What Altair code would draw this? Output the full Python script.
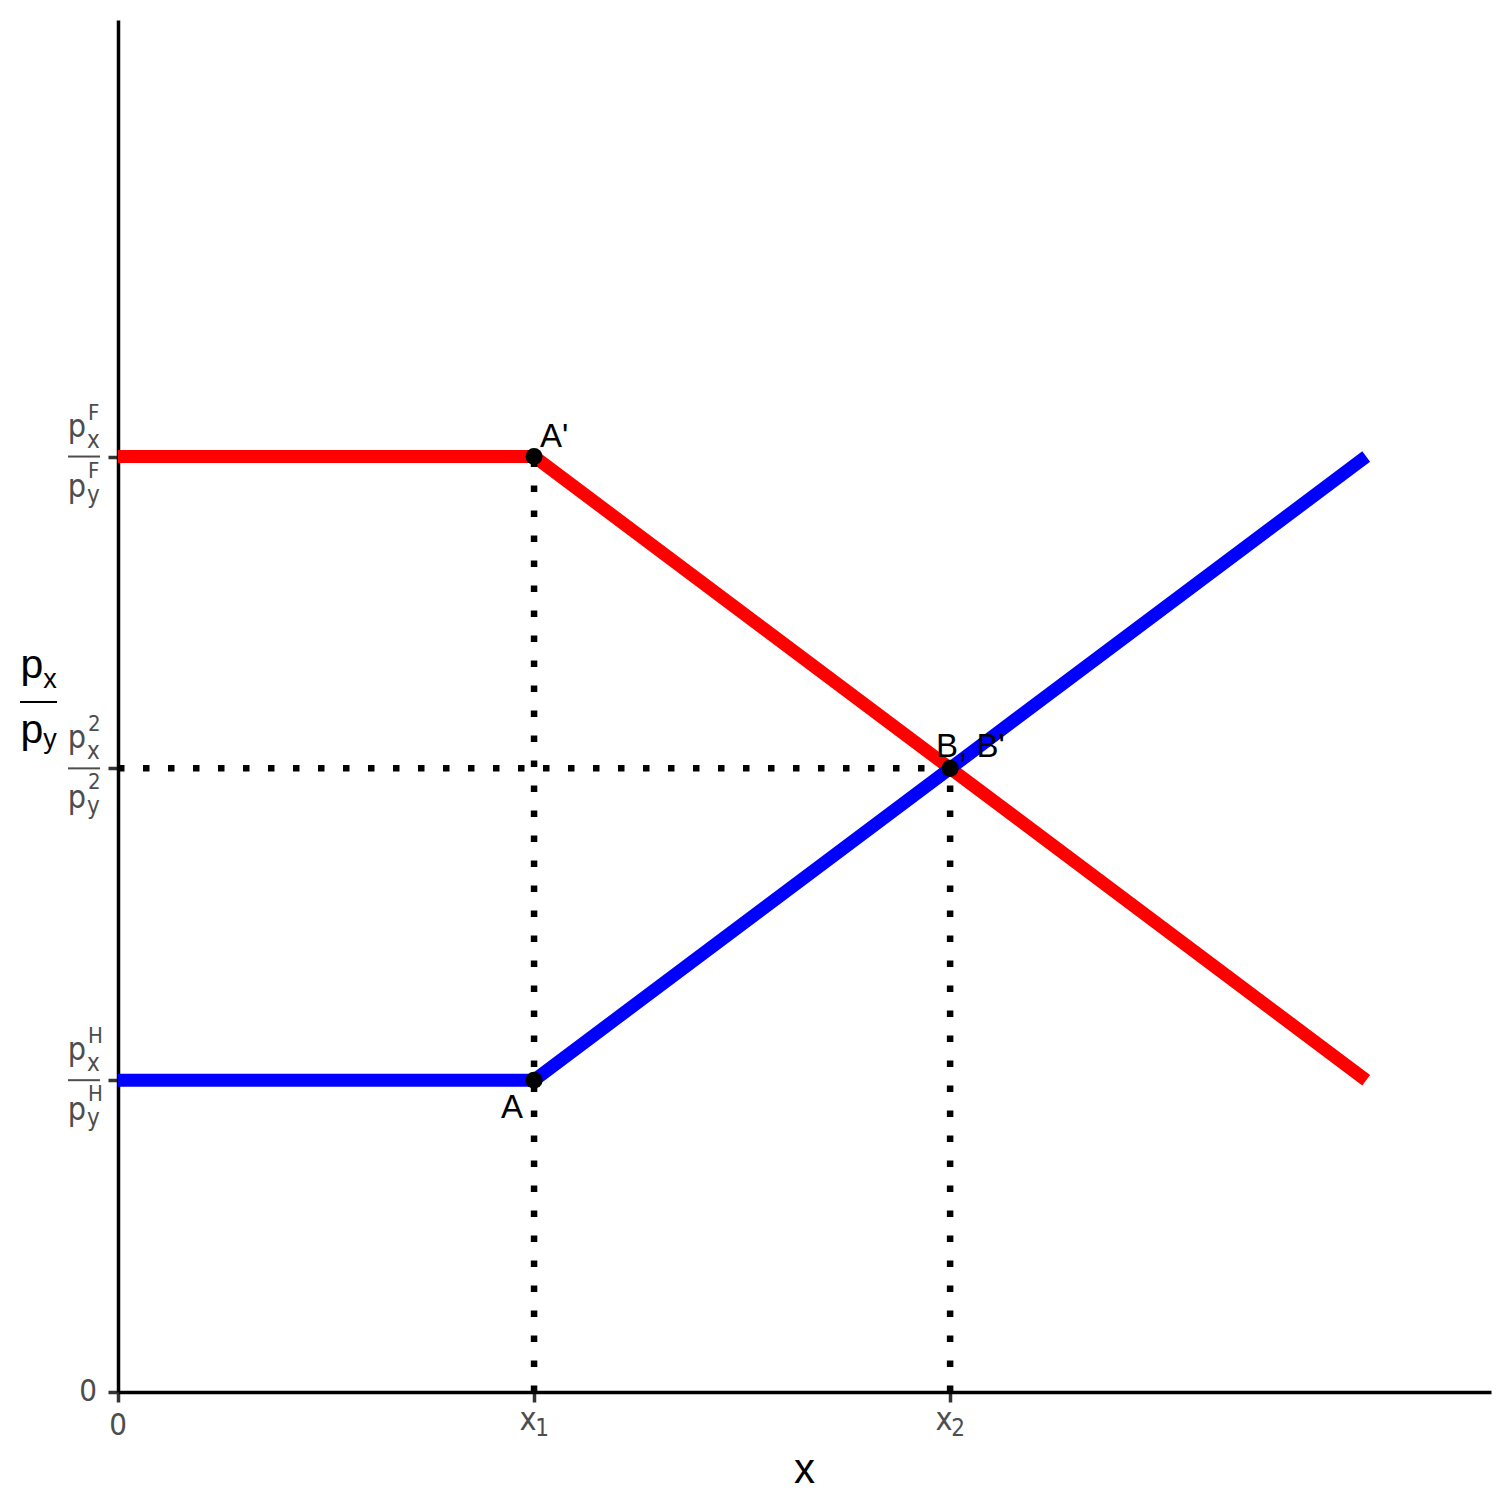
import altair as alt
import pandas as pd

# ---- data ----
red_x = [0, 1, 3]
red_y = [3, 3, 1]
blue_x = [0, 1, 3]
blue_y = [1, 1, 3]
pt_x = [1, 1, 2]
pt_y = [1, 3, 2]
seg_x = [1, 2, 0]
seg_y = [0, 0, 2]
seg_x2 = [1, 2, 2]
seg_y2 = [3, 2, 2]
y_levels = [1, 2, 3]
y_level_sup = ["H", "2", "F"]
x_ticks = [1, 2]
x_tick_sub = ["1", "2"]
ann_A = ("A", 1, 1)
ann_Ap = ("A'", 1, 3)
ann_B = ("B, B'", 2, 2)

W, H = 1373, 1372
TICKFONT = "'Liberation Sans Narrow', 'DejaVu Sans Condensed', sans-serif"
MAINFONT = "'Liberation Sans', Arial, sans-serif"
GREY = "#4D4D4D"

xs = alt.Scale(domain=[0, 3.3], nice=False, zero=False)
ys = alt.Scale(domain=[0, 4.4], nice=False, zero=False)
xaxis = alt.Axis(values=[0, 1, 2], labels=False, grid=False, title=None,
                 domainColor="black", domainWidth=3.5, tickColor="#333333",
                 tickWidth=3.5, tickSize=10)
yaxis = alt.Axis(values=[0, 1, 2, 3], labels=False, grid=False, title=None,
                 domainColor="black", domainWidth=3.5, tickColor="#333333",
                 tickWidth=3.5, tickSize=10)


def X(f="x"):
    return alt.X(f, type="quantitative", scale=xs, axis=xaxis)


def Y(f="y"):
    return alt.Y(f, type="quantitative", scale=ys, axis=yaxis)


lines_df = pd.DataFrame({
    "x": red_x + blue_x,
    "y": red_y + blue_y,
    "s": ["red"] * 3 + ["blue"] * 3,
    "i": list(range(3)) * 2,
})
lines = alt.Chart(lines_df).mark_line(strokeWidth=13, strokeCap="butt", strokeJoin="round").encode(
    x=X(), y=Y(),
    color=alt.Color("s:N", scale=alt.Scale(domain=["red", "blue"], range=["#FF0000", "#0000FF"]), legend=None),
    detail="s:N",
    order="i:Q",
)

seg_df = pd.DataFrame({"x": seg_x, "y": seg_y, "x2": seg_x2, "y2": seg_y2})
dots = alt.Chart(seg_df).mark_rule(color="black", strokeWidth=6.5, strokeDash=[6.5, 18.5], strokeCap="butt").encode(
    x=X(), y=Y(), x2="x2:Q", y2="y2:Q"
)

pts_df = pd.DataFrame({"x": pt_x, "y": pt_y})
points = alt.Chart(pts_df).mark_circle(size=290, color="black", opacity=1).encode(x=X(), y=Y())


def ann(t, dx, dy, align):
    df = pd.DataFrame({"x": [t[1]], "y": [t[2]], "t": [t[0]]})
    return alt.Chart(df).mark_text(font=MAINFONT, fontSize=33, color="black", dx=dx, dy=dy,
                                   align=align, baseline="alphabetic").encode(x=X(), y=Y(), text="t:N")


annA = ann(ann_A, -11, 38, "right")
annAp = ann(ann_Ap, 6, -10, "left")
annB = ann(ann_B, -14, -11, "left")

# ---- y tick labels (fractions) ----
lev_df = pd.DataFrame({"x": [0] * 3, "y": y_levels, "sup": y_level_sup, "p": ["p"] * 3,
                       "sx": ["x"] * 3, "sy": ["y"] * 3})


def lev_text(field, size, dx, dy, align):
    return alt.Chart(lev_df).mark_text(font=TICKFONT, fontSize=size, color=GREY, dx=dx, dy=dy,
                                       align=align, baseline="alphabetic").encode(x=X(), y=Y(), text=f"{field}:N")


ylab = [
    lev_text("p", 32, -32, -20, "right"),
    lev_text("sx", 24, -31, -9, "left"),
    lev_text("sup", 22, -30, -37, "left"),
    lev_text("p", 32, -32, 40, "right"),
    lev_text("sy", 24, -31, 46, "left"),
    lev_text("sup", 22, -30, 21, "left"),
]
ybars = alt.Chart(lev_df).mark_tick(orient="horizontal", size=32, thickness=2, color=GREY, xOffset=-34, opacity=1).encode(
    x=X(), y=Y()
)

zero_df = pd.DataFrame({"x": [0], "y": [0], "t": ["0"]})
yzero = alt.Chart(zero_df).mark_text(font=TICKFONT, fontSize=31, color=GREY, dx=-21, dy=0,
                                     align="right", baseline="middle").encode(x=X(), y=Y(), text="t:N")
xzero = alt.Chart(zero_df).mark_text(font=TICKFONT, fontSize=31, color=GREY, dx=0, dy=43,
                                     align="center", baseline="alphabetic").encode(x=X(), y=Y(), text="t:N")

xt_df = pd.DataFrame({"x": x_ticks, "y": [0, 0], "sub": x_tick_sub, "xx": ["x", "x"]})
xlab_x = alt.Chart(xt_df).mark_text(font=TICKFONT, fontSize=32, color=GREY, dx=-6, dy=38,
                                    align="center", baseline="alphabetic").encode(x=X(), y=Y(), text="xx:N")
xlab_sub = alt.Chart(xt_df).mark_text(font=TICKFONT, fontSize=24, color=GREY, dx=8, dy=44,
                                      align="center", baseline="alphabetic").encode(x=X(), y=Y(), text="sub:N")

# ---- axis titles ----
one = pd.DataFrame({"a": [0]})


def ptext(t, x, y, size, align="center"):
    return alt.Chart(one).mark_text(text=t, font=MAINFONT, fontSize=size, color="black",
                                    align=align, baseline="alphabetic").encode(x=alt.value(x), y=alt.value(y))


xtitle = ptext("x", W / 2, 1463, 42)
yt = [
    ptext("p", -86, 658, 41),
    ptext("x", -68, 668, 27),
    ptext("p", -86, 723, 41),
    ptext("y", -68, 728, 27),
]
ytbar = alt.Chart(one).mark_rule(color="black", strokeWidth=2).encode(
    x=alt.value(-98), x2=alt.value(-61), y=alt.value(682)
)

chart = alt.layer(
    lines, dots, points, annA, annAp, annB, *ylab, ybars, yzero, xzero, xlab_x, xlab_sub,
    xtitle, *yt, ytbar
).properties(
    width=W, height=H,
    autosize=alt.AutoSizeParams(type="none"),
    padding={"left": 110, "top": 12, "right": 13, "bottom": 112},
    background="white",
).configure_view(stroke=None)

chart.save("out.html", embed_options={"renderer": "svg", "actions": False})
